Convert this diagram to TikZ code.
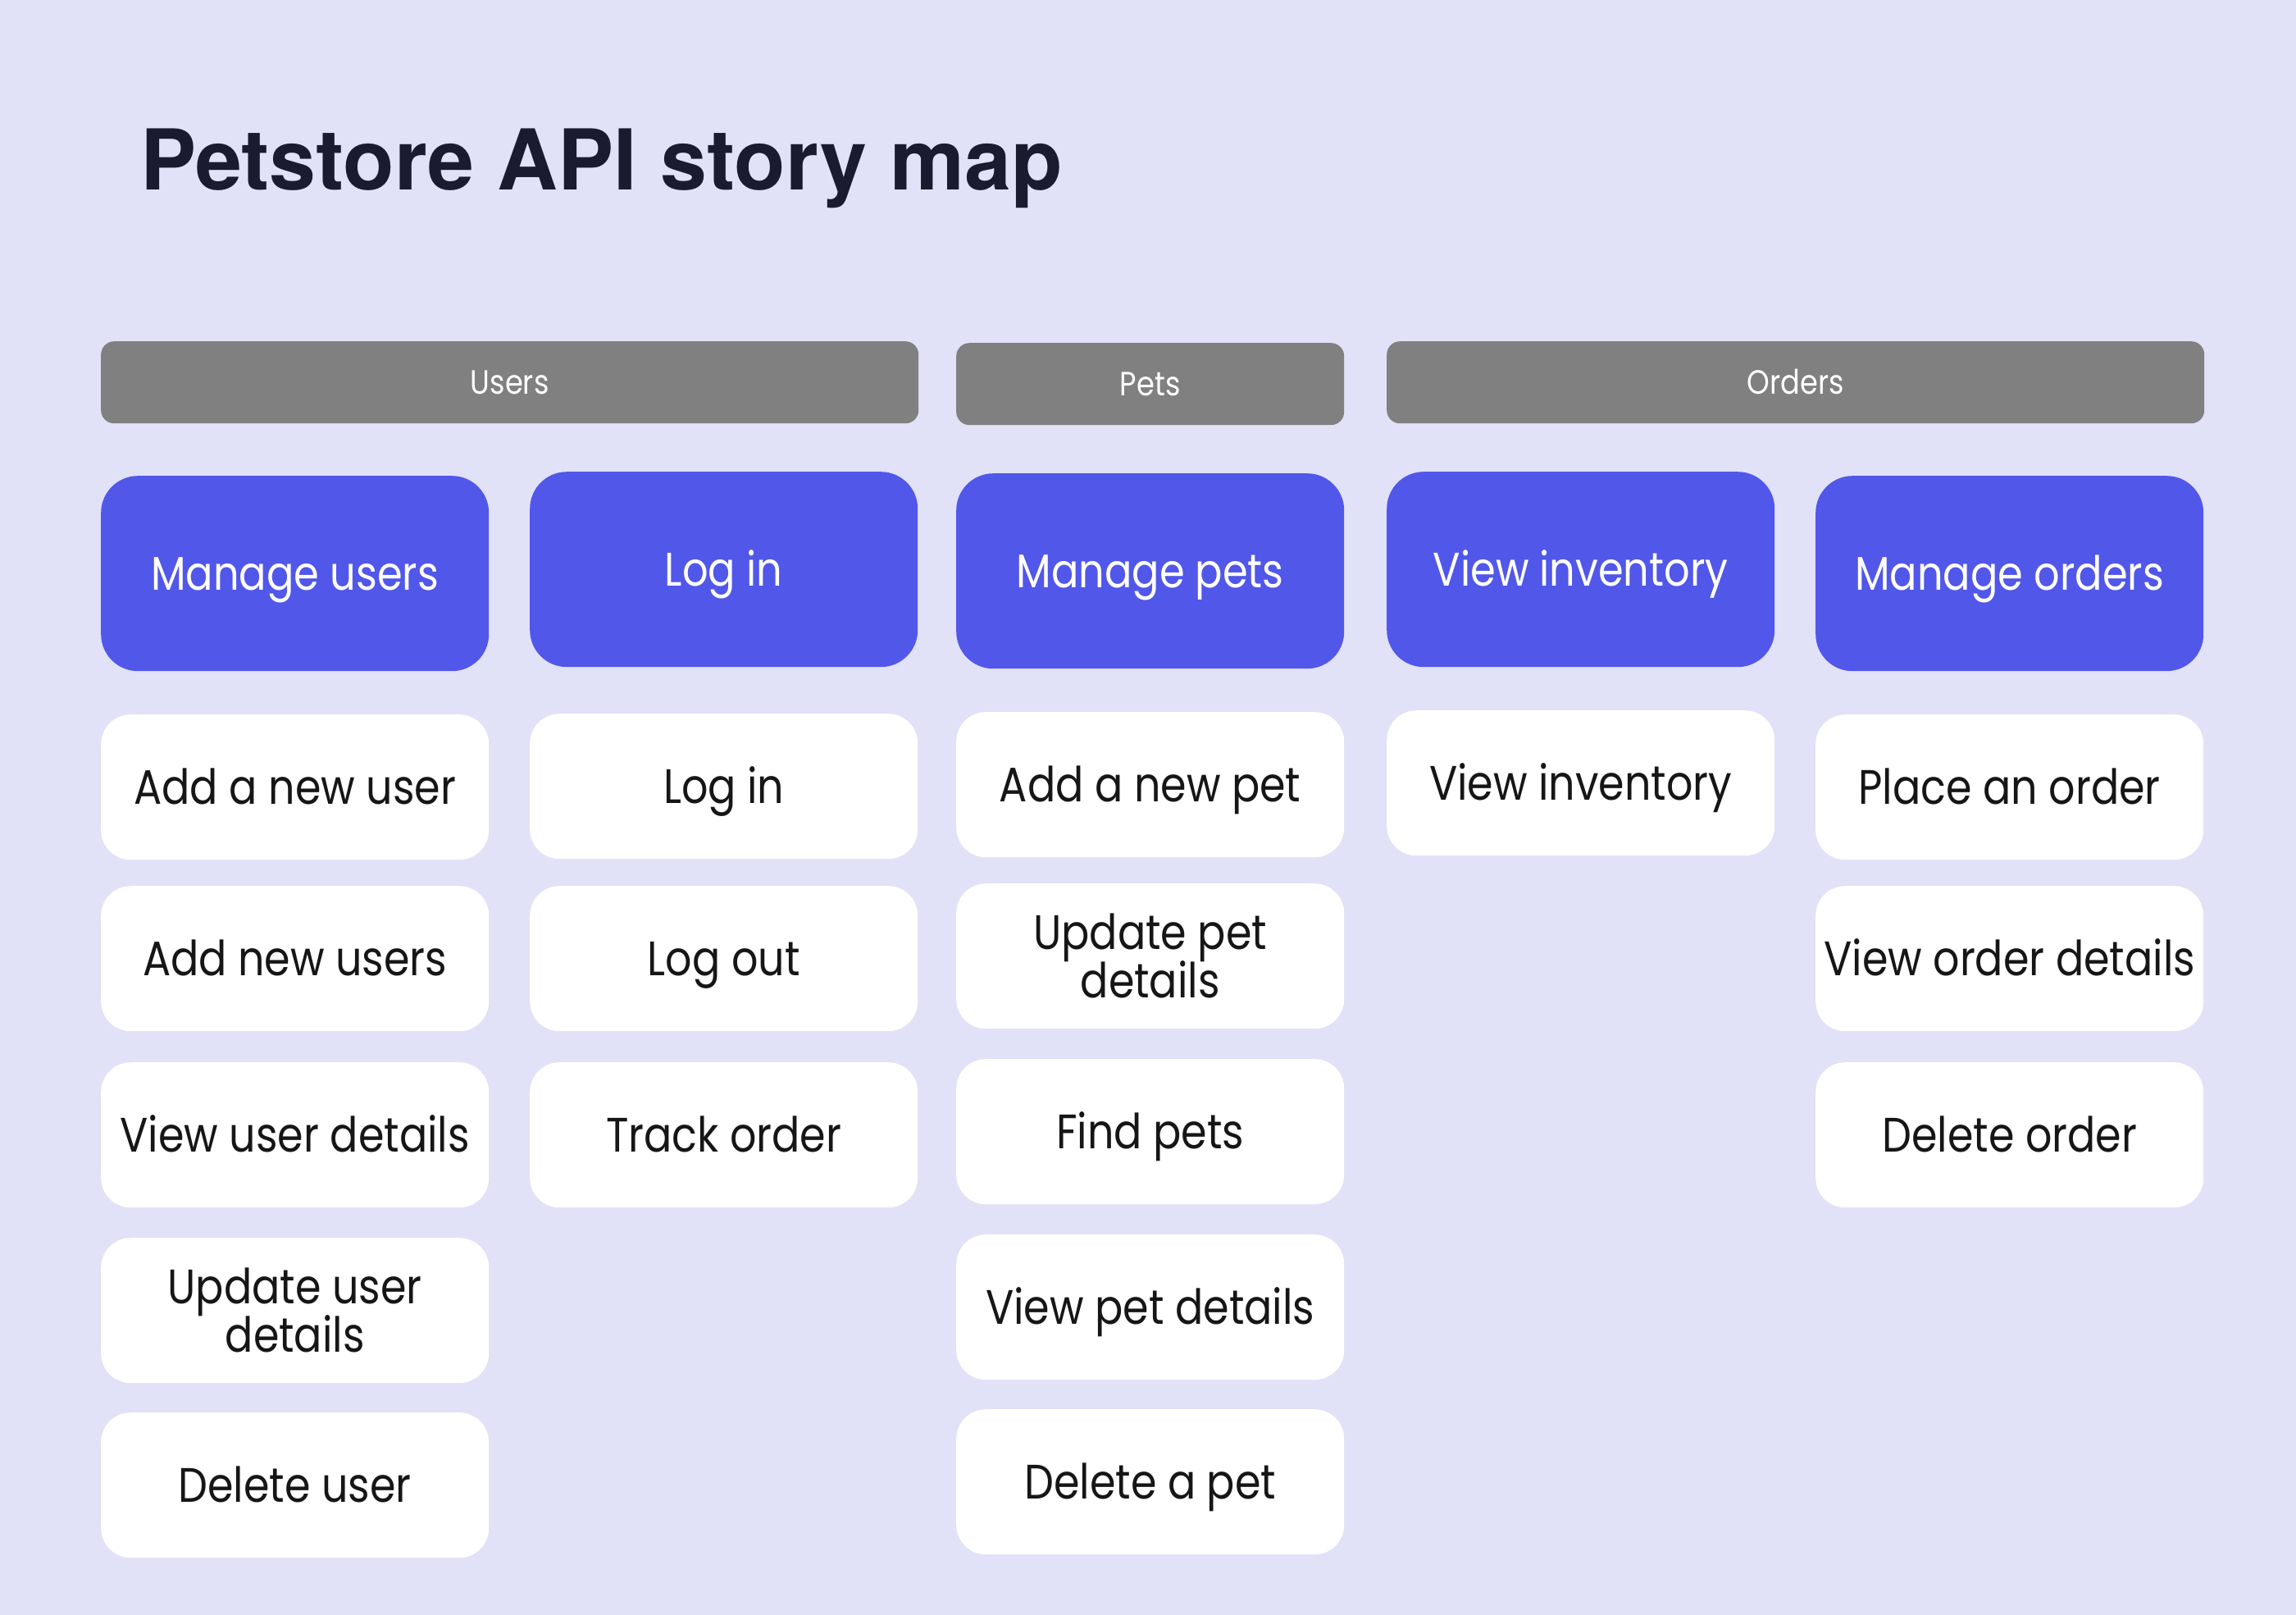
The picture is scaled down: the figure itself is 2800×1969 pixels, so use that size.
\documentclass[tikz,border=0pt]{standalone}
\usepackage{fontspec}
\setmainfont{Poppins}
\newfontfamily\titlefont{TeX Gyre Heros}
\newfontfamily\boxfont[FakeStretch=0.86]{Poppins}
\definecolor{bg}{HTML}{E1E1F8}
\definecolor{bluebox}{HTML}{5157E9}
\definecolor{graybar}{HTML}{808080}
\definecolor{titlecol}{HTML}{1B1B2F}
\definecolor{txt}{HTML}{161616}
\begin{document}
\begin{tikzpicture}[x=1pt,y=-1pt,
  box/.style={anchor=north west, inner sep=0pt, minimum width=473pt, align=center},
  grp/.style={anchor=north west, inner sep=0pt, minimum height=100pt, fill=graybar, rounded corners=16pt, text=white, text height=28.5pt, text depth=0pt, font=\boxfont\fontsize{41}{44}\selectfont},
  epic/.style={box, minimum height=238pt, fill=bluebox, rounded corners=45pt, text=white, text height=40pt, text depth=0pt, font=\boxfont\fontsize{57.5}{60}\selectfont},
  storytwo/.style={box, minimum height=177pt, fill=white, rounded corners=36pt, text=txt, font=\boxfont\fontsize{59}{61}\selectfont},
  story/.style={storytwo, text height=41pt, text depth=0pt}]
\fill[bg] (0,0) rectangle (2800,1969);
\useasboundingbox (0,0) rectangle (2800,1969);
\node[anchor=base west, inner sep=0pt, text=titlecol, font=\titlefont\bfseries\fontsize{102.3}{110}\selectfont] (title) at (171,232) {Petstore API story map};
% group bars
\node[grp, minimum width=997pt] (gusers) at (123,416) {Users};
\node[grp, minimum width=473pt] (gpets) at (1166,418) {Pets};
\node[grp, minimum width=997pt] (gorders) at (1691,416) {Orders};
% epics
\node[epic] (e1) at (123,580) {Manage users};
\node[epic] (e2) at (646,575) {Log in};
\node[epic] (e3) at (1166,577) {Manage pets};
\node[epic] (e4) at (1691,575) {View inventory};
\node[epic] (e5) at (2214,580) {Manage orders};
% column 1
\node[story] (s11) at (123,871) {Add a new user};
\node[story] (s12) at (123,1080) {Add new users};
\node[story] (s13) at (123,1295) {View user details};
\node[storytwo] (s14) at (123,1509) {Update user\\[-2pt]details};
\node[story] (s15) at (123,1722) {Delete user};
% column 2
\node[story] (s21) at (646,870) {Log in};
\node[story] (s22) at (646,1080) {Log out};
\node[story] (s23) at (646,1295) {Track order};
% column 3
\node[story] (s31) at (1166,868) {Add a new pet};
\node[storytwo] (s32) at (1166,1077) {Update pet\\[-2pt]details};
\node[story] (s33) at (1166,1291) {Find pets};
\node[story] (s34) at (1166,1505) {View pet details};
\node[story] (s35) at (1166,1718) {Delete a pet};
% column 4
\node[story] (s41) at (1691,866) {View inventory};
% column 5
\node[story] (s51) at (2214,871) {Place an order};
\node[story] (s52) at (2214,1080) {View order details};
\node[story] (s53) at (2214,1295) {Delete order};
\end{tikzpicture}
\end{document}
